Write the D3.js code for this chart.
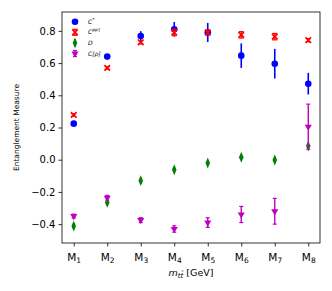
<!DOCTYPE html>
<html>
<head>
<meta charset="utf-8">
<script src="https://cdn.jsdelivr.net/npm/d3@7"></script>
<style>
body { margin: 0; background: #fff; }
svg { font-family: "DejaVu Sans", sans-serif; }
</style>
</head>
<body>
<svg id="chart" width="332" height="291"></svg>
<script>
// data
const bins = [1, 2, 3, 4, 5, 6, 7, 8]
const yTicks = [-0.4, -0.2, 0.0, 0.2, 0.4, 0.6, 0.8]

const cStar = [0.224, 0.64, 0.768, 0.81, 0.79, 0.646, 0.596, 0.472]
const cStarErr = [0.012, 0.015, 0.03, 0.045, 0.059, 0.076, 0.092, 0.067]

const cPPT = [0.278, 0.57, 0.729, 0.79, 0.79, 0.775, 0.764, 0.742]
const cPPTErr = [0.008, 0.008, 0.01, 0.02, 0.015, 0.02, 0.02, 0.01]

const dVals = [-0.412, -0.265, -0.13, -0.062, -0.02, 0.015, -0.002, 0.085]
const dErr = [0.02, 0.02, 0.02, 0.015, 0.015, 0.015, 0.02, 0.015]

const cRho = [-0.35, -0.236, -0.375, -0.43, -0.39, -0.34, -0.32, 0.205]
const cRhoErr = [0.012, 0.015, 0.015, 0.02, 0.03, 0.05, 0.08, 0.14]

const svg = d3.select("#chart"),
	pLeft = 62, pRight = 320, pTop = 12, pBottom = 243

const xScale = d3.scaleLinear().domain([0.65, 8.35]).range([pLeft, pRight]),
	yScale = d3.scaleLinear().domain([-0.517, 0.917]).range([pBottom, pTop])

// axes
const xAxis = svg.append("g")
	.attr("transform", "translate(0," + pBottom + ")")
	.call(d3.axisBottom(xScale).tickValues(bins).tickSize(3.5).tickPadding(3).tickFormat(""))
const yAxis = svg.append("g")
	.attr("transform", "translate(" + pLeft + ",0)")
	.call(d3.axisLeft(yScale).tickValues(yTicks).tickSize(3.5).tickPadding(3)
		.tickFormat(function(d){ return d3.format(".1f")(d).replace("-", "\u2212"); }))
yAxis.selectAll("text").attr("font-size", "10px").attr("fill", "#000").attr("font-family", "DejaVu Sans")
svg.selectAll(".domain").remove()
svg.selectAll(".tick line").attr("stroke", "#000").attr("stroke-width", 0.8)

// M_i tick labels with subscripts
xAxis.selectAll(".tick").each(function(d) {
	const t = d3.select(this).append("text")
		.attr("y", 18)
		.attr("text-anchor", "middle")
		.attr("fill", "#000")
		.attr("font-size", "10.5px")
		.attr("font-family", "DejaVu Sans")
	t.append("tspan").text("M")
	t.append("tspan").attr("font-size", "7.5px").attr("dy", 2).text(d)
})

svg.append("rect")
	.attr("x", pLeft).attr("y", pTop)
	.attr("width", pRight - pLeft).attr("height", pBottom - pTop)
	.attr("fill", "none").attr("stroke", "#000").attr("stroke-width", 0.8)

// axis labels
svg.append("text")
	.attr("transform", "translate(19," + ((pTop + pBottom) / 2) + ") rotate(-90)")
	.attr("text-anchor", "middle")
	.attr("font-size", "7.5px")
	.text("Entanglement Measure")

const xl = svg.append("text")
	.attr("x", 191).attr("y", 276)
	.attr("text-anchor", "middle")
	.attr("font-size", "9.5px")
xl.append("tspan").attr("font-style", "italic").text("m")
xl.append("tspan").attr("font-style", "italic").attr("font-size", "7px").attr("dy", 1.5).text("tt\u0304")
xl.append("tspan").attr("dy", -1.5).text(" [GeV]")

function errbars(vals, errs, color, cap, lw) {
	const g = svg.append("g")
	g.selectAll("line.e").data(bins).enter().append("line")
		.attr("x1", function(d) { return xScale(d); })
		.attr("x2", function(d) { return xScale(d); })
		.attr("y1", function(d, i) { return yScale(vals[i] - errs[i]); })
		.attr("y2", function(d, i) { return yScale(vals[i] + errs[i]); })
		.attr("stroke", color).attr("stroke-width", lw)
	if (cap > 0) {
		[-1, 1].forEach(function(s) {
			g.selectAll("line.c" + (s + 1)).data(bins).enter().append("line")
				.attr("x1", function(d) { return xScale(d) - cap; })
				.attr("x2", function(d) { return xScale(d) + cap; })
				.attr("y1", function(d, i) { return yScale(vals[i] + s * errs[i]); })
				.attr("y2", function(d, i) { return yScale(vals[i] + s * errs[i]); })
				.attr("stroke", color).attr("stroke-width", 1.2)
		})
	}
	return g
}

const blue = "#0000ff", red = "#ff0000", green = "#008000", magenta = "#bf00bf"

const symX = d3.symbol().type(d3.symbolX).size(22)
const symD = d3.symbol().type(d3.symbolDiamond).size(22)
const symV = d3.symbol().type(d3.symbolTriangle).size(22)

function drawCircle(g, x, y) { g.append("circle").attr("cx", x).attr("cy", y).attr("r", 3.3).attr("fill", blue) }
function drawX(g, x, y) { g.append("path").attr("d", symX).attr("transform", "translate(" + x + "," + y + ")").attr("fill", "none").attr("stroke", red).attr("stroke-width", 1.6) }
function drawD(g, x, y) { g.append("path").attr("d", symD).attr("transform", "translate(" + x + "," + y + ") scale(0.9,1.25)").attr("fill", green) }
function drawV(g, x, y) { g.append("path").attr("d", symV).attr("transform", "translate(" + x + "," + y + ") rotate(180)").attr("fill", magenta) }

// C*
errbars(cStar, cStarErr, blue, 0, 1.6)
bins.forEach(function(d, i) { drawCircle(svg, xScale(d), yScale(cStar[i])) })
// C^PPT
errbars(cPPT, cPPTErr, red, 2.5, 1.4)
bins.forEach(function(d, i) { drawX(svg, xScale(d), yScale(cPPT[i])) })
// D
errbars(dVals, dErr, green, 0, 1.6)
bins.forEach(function(d, i) { drawD(svg, xScale(d), yScale(dVals[i])) })
// C[rho]
errbars(cRho, cRhoErr, magenta, 2, 1.4)
bins.forEach(function(d, i) { drawV(svg, xScale(d), yScale(cRho[i])) })

// legend
const lg = svg.append("g")
const rows = [
	{ draw: drawCircle, main: "C", sup: "*" },
	{ draw: drawX, main: "C", sup: "PPT" },
	{ draw: drawD, main: "D", sup: "" },
	{ draw: drawV, main: "C[\u03c1]", sup: "" }
]
rows.forEach(function(r, i) {
	const y = 21.7 + i * 10.6
	if (i === 1) {
		lg.append("line").attr("x1", 75).attr("x2", 75).attr("y1", y - 3).attr("y2", y + 3).attr("stroke", red).attr("stroke-width", 1.4)
		lg.append("line").attr("x1", 72.5).attr("x2", 77.5).attr("y1", y - 3).attr("y2", y - 3).attr("stroke", red).attr("stroke-width", 1.2)
		lg.append("line").attr("x1", 72.5).attr("x2", 77.5).attr("y1", y + 3).attr("y2", y + 3).attr("stroke", red).attr("stroke-width", 1.2)
	}
	if (i === 2) lg.append("line").attr("x1", 75).attr("x2", 75).attr("y1", y - 3.5).attr("y2", y + 3.5).attr("stroke", green).attr("stroke-width", 1.6)
	if (i === 3) {
		lg.append("line").attr("x1", 75).attr("x2", 75).attr("y1", y - 3).attr("y2", y + 3).attr("stroke", magenta).attr("stroke-width", 1.4)
		lg.append("line").attr("x1", 73).attr("x2", 77).attr("y1", y - 3).attr("y2", y - 3).attr("stroke", magenta).attr("stroke-width", 1.2)
		lg.append("line").attr("x1", 73).attr("x2", 77).attr("y1", y + 3).attr("y2", y + 3).attr("stroke", magenta).attr("stroke-width", 1.2)
	}
	r.draw(lg, 75, y)
	const t = lg.append("text").attr("x", 88).attr("y", y + 2).attr("font-size", "6px").attr("font-style", "italic")
	t.append("tspan").text(r.main)
	if (r.sup) t.append("tspan").attr("font-size", "4.5px").attr("dy", -2.5).attr("font-style", "normal").text(r.sup)
})
</script>
</body>
</html>
